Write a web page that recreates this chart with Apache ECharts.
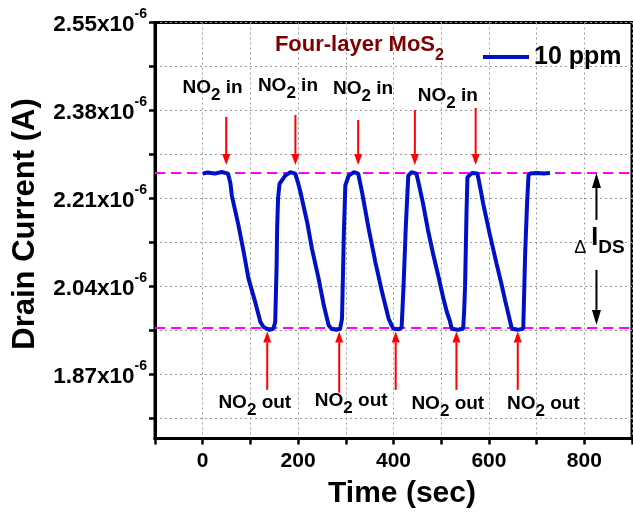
<!DOCTYPE html>
<html><head><meta charset="utf-8">
<script src="https://cdn.jsdelivr.net/npm/echarts@6/dist/echarts.min.js"></script>
<style>html,body{margin:0;padding:0;background:#fff}#c{width:633px;height:515px}</style>
</head><body><div id="c"></div>
<script>
// Time axis (s)
const timeSec = [0,10,25,40,53,58,61,68,75,86,96,110,121,128,131,140,148,
  152,155,156,158,161,166,173,184,194,
  200,205,219,229,243,254,264,270,280,288,
  292,294,296,299,306,317,326,
  334,348,362,376,390,396,400,410,417,
  419,421,426,431,438,448,
  455,462,472,483,494,504,512,518,522,535,546,
  548,550,553,555,564,576,
  582,588,602,616,625,634,644,648,660,672,
  674,676,680,683,686,700,715,728];
// Drain current, in units of 1e-6 A
const currentE6 = [2.258,2.260,2.258,2.261,2.258,2.240,2.216,2.187,2.158,2.106,2.055,2.010,1.971,1.961,1.958,1.956,1.958,
  1.971,2.081,2.150,2.210,2.238,2.245,2.254,2.261,2.258,
  2.240,2.222,2.164,2.113,2.055,2.003,1.965,1.958,1.956,1.958,
  1.977,2.060,2.145,2.235,2.254,2.261,2.258,
  2.222,2.151,2.087,2.029,1.977,1.965,1.958,1.957,1.960,
  2.000,2.039,2.160,2.254,2.261,2.258,
  2.230,2.200,2.150,2.103,2.060,2.019,1.990,1.974,1.958,1.956,1.958,
  1.990,2.039,2.180,2.251,2.259,2.258,
  2.230,2.200,2.140,2.084,2.050,2.013,1.974,1.958,1.956,1.958,
  2.030,2.103,2.200,2.254,2.258,2.259,2.258,2.259];
const xTickLabels = [0,200,400,600,800];
const yTickLabels = [1.87,2.04,2.21,2.38,2.55];
const yTicks = [1.785,1.87,1.955,2.04,2.125,2.21,2.295,2.38,2.465,2.55];
const levelLines = [2.26,1.955];
// annotation anchors (data coordinates)
const inArrowX = [49.3,194.4,325.9,444.8,572.2];
const inArrowTop = [2.3675,2.3713,2.3617,2.381,2.3848];
const inArrowTip = 2.2747;
const outArrowX = [135.3,286.2,404.6,531.9,660.5];
const outArrowTail = [1.840,1.8345,1.840,1.840,1.840];
const outArrowTip = 1.953;
const inLabelX = [20.5,178.7,336.3,513.8];
const inLabelY = [2.4235,2.4273,2.4215,2.409];
const outLabelX = [109.2,311.3,513.8,714.2];
const outLabelY = [1.815,1.8197,1.813,1.813];
const deltaX = 825.5;
const deltaUp = [2.1685,2.2593];
const deltaDown = [2.0719,1.9656];
const deltaLabel = [778.8,2.1335];
const titlePos = [328.5,2.5065];

const FONT = '"Liberation Sans", Arial, sans-serif';
const chart = echarts.init(document.getElementById('c'));
const seriesData = timeSec.map((t,i)=>[t,currentE6[i]]);

chart.setOption({
  animation:false,
  textStyle:{fontFamily:FONT},
  grid:{left:155,right:1,top:22.5,bottom:76.5,show:true,borderColor:'#000',borderWidth:3,backgroundColor:'transparent'},
  legend:{left:483,top:44.5,padding:0,itemWidth:46,itemHeight:4,icon:'rect',data:['10 ppm'],
    textStyle:{fontSize:25,fontWeight:'bold',color:'#000',fontFamily:FONT,lineHeight:25}},
  xAxis:{type:'value',min:-100,max:900,interval:100,
    axisLine:{show:true,onZero:false,lineStyle:{color:'#000',width:3}},
    axisTick:{show:true,length:6,lineStyle:{color:'#000',width:2.5}},
    axisLabel:{customValues:xTickLabels,margin:12,fontSize:21,fontWeight:'bold',color:'#000',fontFamily:FONT},
    splitLine:{show:true,lineStyle:{color:'#9a9a9a',width:1,type:[2,3]}},
    name:'Time (sec)',nameLocation:'middle',nameGap:40,
    nameTextStyle:{fontSize:30,fontWeight:'bold',color:'#000',fontFamily:FONT,padding:[0,0,0,17]}
  },
  yAxis:{type:'value',min:1.746,max:2.55,
    axisLine:{show:true,onZero:false,lineStyle:{color:'#000',width:3}},
    axisTick:{show:true,customValues:yTicks,length:6,lineStyle:{color:'#000',width:2.5}},
    axisLabel:{customValues:yTickLabels,margin:8,padding:[5,0,0,0],
      formatter:v=>'{a|'+v.toFixed(2)+'x10}{b|-6}',
      rich:{a:{fontSize:22.5,fontWeight:'bold',color:'#000',fontFamily:FONT,lineHeight:36,verticalAlign:'middle'},
            b:{fontSize:14,fontWeight:'bold',color:'#000',fontFamily:FONT,lineHeight:14,verticalAlign:'top'}}},
    splitLine:{show:true,lineStyle:{color:'#9a9a9a',width:1,type:[2,3]}},
    name:'Drain Current (A)',nameLocation:'middle',nameGap:114,nameRotate:90,
    nameTextStyle:{fontSize:31,fontWeight:'bold',color:'#000',fontFamily:FONT,padding:[0,0,0,13]}
  },
  series:[{type:'line',name:'10 ppm',data:seriesData,symbol:'none',showSymbol:false,z:3,
    lineStyle:{color:'#0010c8',width:4},itemStyle:{color:'#0010c8'},
    markLine:{silent:true,symbol:'none',z:1,label:{show:false},
      lineStyle:{color:'#ff00ff',type:[10,6],width:2},
      data:levelLines.map(v=>({yAxis:v}))}
  }]
});

const px = (x,y)=>chart.convertToPixel({gridIndex:0},[x,y]);
const G = [];
function arrow(x,y0,y1,color,lw,hw,hl){
  const a=px(x,y0), b=px(x,y1);
  const dir=Math.sign(b[1]-a[1]);
  const baseY=b[1]-dir*hl;
  G.push({type:'line',z:100,shape:{x1:a[0],y1:a[1],x2:b[0],y2:baseY},style:{stroke:color,lineWidth:lw}});
  G.push({type:'polygon',z:100,shape:{points:[[b[0],b[1]],[b[0]-hw/2,baseY],[b[0]+hw/2,baseY]]},style:{fill:color}});
}
function txt(x,y,text,rich,align){
  const p=px(x,y);
  G.push({type:'text',z:100,x:p[0],y:p[1],style:{text:text,rich:rich,align:align||'center',verticalAlign:'middle',fontFamily:FONT}});
}
const noRich={m:{fontSize:19,fontWeight:'bold',fill:'#000',fontFamily:FONT,lineHeight:32,verticalAlign:'middle'},
              s:{fontSize:17,fontWeight:'bold',fill:'#000',fontFamily:FONT,lineHeight:18,verticalAlign:'bottom'}};
inArrowX.forEach((x,i)=>arrow(x,inArrowTop[i],inArrowTip,'#ff0000',2,8,11));
outArrowX.forEach((x,i)=>arrow(x,outArrowTail[i],outArrowTip,'#ff0000',2,8,11));
inLabelX.forEach((x,i)=>txt(x,inLabelY[i],'{m|NO}{s|2}{m| in}',noRich));
outLabelX.forEach((x,i)=>txt(x,outLabelY[i],'{m|NO}{s|2}{m| out}',noRich));
arrow(deltaX,deltaUp[0],deltaUp[1],'#000',2,9,15);
arrow(deltaX,deltaDown[0],deltaDown[1],'#000',2,9,15);
txt(deltaLabel[0],deltaLabel[1],'{d|Δ }{i|I}{s|DS}',{
  d:{fontSize:18,fill:'#000',fontFamily:FONT,lineHeight:28,verticalAlign:'bottom'},
  i:{fontSize:25,fontWeight:'bold',fill:'#000',fontFamily:FONT,lineHeight:38,verticalAlign:'middle'},
  s:{fontSize:19,fontWeight:'bold',fill:'#000',fontFamily:FONT,lineHeight:20,verticalAlign:'bottom'}},'left');
txt(titlePos[0],titlePos[1],'{m|Four-layer MoS}{s|2}',{
  m:{fontSize:22,fontWeight:'bold',fill:'#800000',fontFamily:FONT,lineHeight:38,verticalAlign:'middle'},
  s:{fontSize:16,fontWeight:'bold',fill:'#800000',fontFamily:FONT,lineHeight:16,verticalAlign:'bottom'}});
chart.setOption({graphic:G});
</script></body></html>
